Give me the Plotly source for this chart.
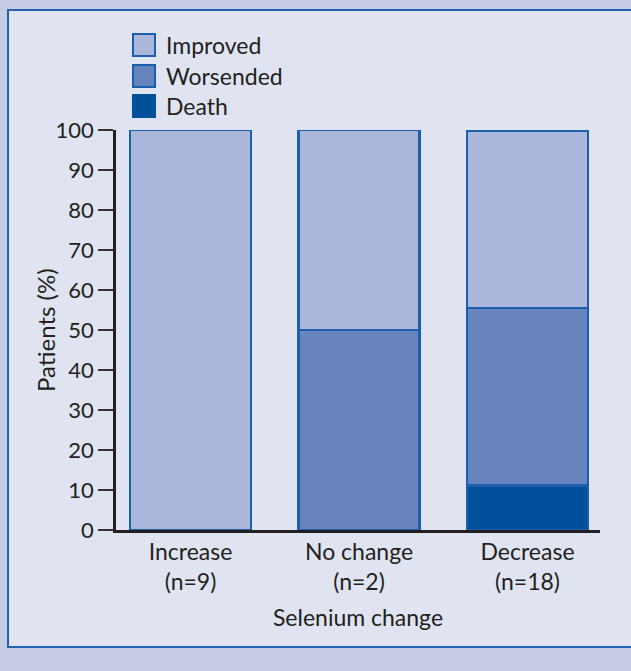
import plotly.graph_objects as go

# Outcome by change in selenium level
categories = ["Increase", "No change", "Decrease"]
n_patients = [9, 2, 18]
series_names = ["Improved", "Worsended", "Death"]
improved = [100, 50, 44.4]
worsened = [0, 50, 44.4]
death = [0, 0, 11.1]

fill_colors = {"Improved": "#aab6da", "Worsended": "#6784be", "Death": "#00509c"}
edge_color = "#1b5fad"
text_color = "#231f20"
font_family = "Lato, 'Open Sans', sans-serif"

tick_labels = [f"{c}<br>(n={n})" for c, n in zip(categories, n_patients)]

fig = go.Figure()
# stacked from the bottom: death, worsened, improved
for name, vals in [("Death", death), ("Worsended", worsened), ("Improved", improved)]:
    fig.add_trace(go.Bar(
        x=categories, y=vals, name=name, width=0.718,
        marker=dict(color=fill_colors[name], line=dict(color=edge_color, width=2.5)),
        showlegend=False,
    ))

shapes = [
    # framed inner panel
    dict(type="rect", xref="paper", yref="paper", x0=-0.2231, x1=1.10, y0=-0.2925, y1=1.30,
         fillcolor="#dfe4f0", line=dict(color="#2062ae", width=2), layer="below"),
]
annotations = []

# legend boxes and labels
legend_y = [1.2125, 1.135, 1.06]
half_w = 11 / 484
half_h = 11 / 400
for name, yc in zip(series_names, legend_y):
    border = edge_color if name != "Death" else fill_colors[name]
    shapes.append(dict(type="rect", xref="paper", yref="paper",
                       x0=0.0351, x1=0.0351 + 2 * half_w, y0=yc - half_h, y1=yc + half_h,
                       fillcolor=fill_colors[name], line=dict(color=border, width=2)))
    annotations.append(dict(xref="paper", yref="paper", x=0.1, y=yc, text=name,
                            showarrow=False, xanchor="left", yanchor="middle",
                            font=dict(size=23, color=text_color, family=font_family)))

# vertical axis title
annotations.append(dict(xref="paper", yref="paper", x=-0.1467, y=0.5, text="Patients (%)",
                        textangle=-90, showarrow=False, xanchor="center", yanchor="middle",
                        font=dict(size=24, color=text_color, family=font_family)))

fig.update_layout(
    barmode="stack",
    width=631, height=671,
    margin=dict(l=116, r=31, t=130, b=141, autoexpand=False),
    paper_bgcolor="#c6cce4",
    plot_bgcolor="rgba(0,0,0,0)",
    font=dict(family=font_family, size=22, color=text_color),
    shapes=shapes,
    annotations=annotations,
)
fig.update_xaxes(
    range=[-0.442, 2.43],
    tickvals=categories, ticktext=tick_labels,
    showline=True, linecolor=text_color, linewidth=2.5,
    showgrid=False, ticks="",
    tickfont=dict(size=23),
    title=dict(text="Selenium change", font=dict(size=23), standoff=16),
)
fig.update_yaxes(
    range=[0, 100], dtick=10, tick0=0,
    showline=True, linecolor=text_color, linewidth=2.5,
    showgrid=False, zeroline=False,
    ticks="outside", ticklen=15, tickwidth=1.5, tickcolor="#333333",
    tickfont=dict(size=22),
)

fig.write_html("out.html")
